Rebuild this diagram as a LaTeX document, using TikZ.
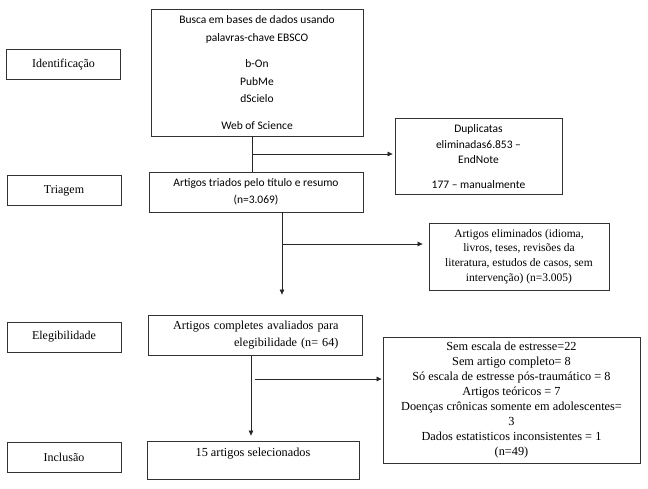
\documentclass[tikz,border=0pt]{standalone}
\usepackage{fontspec}
\setmainfont{Liberation Serif}
\newfontfamily\calibri{Carlito}
\usetikzlibrary{positioning,calc,arrows.meta}
\tikzset{
	box/.style={draw=black!80, line width=0.8pt, inner sep=0pt, align=center},
	stagebox/.style={box, minimum width=114pt, minimum height=30pt, font=\fontsize{12}{14}\selectfont},
	serif/.style={font=\fontsize{12.3}{15}\selectfont},
	cal/.style={font=\calibri\fontsize{11.5}{17.5}\selectfont},
	arr/.style={line width=0.7pt, black!85, -{Triangle[length=5pt,width=4.5pt]}},
	lin/.style={line width=0.7pt, black!85}
}
\begin{document}
\begin{tikzpicture}[x=1pt, y=-1pt]
			\useasboundingbox (0,0) rectangle (648,488);
			\node[stagebox] (ident) at (63.5,64.5) {Identificação};
			\node[stagebox] (triag) at (64,190.5) {Triagem};
			\node[stagebox] (eleg) at (64,337) {Elegibilidade};
			\node[stagebox] (incl) at (64,457) {Inclusão};
			\node[box, cal, minimum width=212pt, minimum height=127pt] (busca) at (257,72.5)
				{Busca em bases de dados usando\\ palavras-chave EBSCO\\[9pt] b-On\\ PubMe\\ dScielo\\[9pt] Web of Science};
			\node[box, cal, font=\calibri\fontsize{11.5}{15.5}\selectfont, minimum width=167pt, minimum height=76pt] (dup) at (478.5,156)
				{\\[-6pt]Duplicatas\\ eliminadas6.853 –\\ EndNote\\[9pt] 177 – manualmente};
			\node[box, cal, font=\calibri\fontsize{11.5}{17}\selectfont, minimum width=214pt, minimum height=40pt] (triados) at (256,192)
				{Artigos triados pelo título e resumo\\ (n=3.069)};
			\node[box, serif, font=\fontsize{11.5}{14.7}\selectfont, minimum width=180pt, minimum height=67pt] (elim) at (519,256.5)
				{Artigos eliminados (idioma,\\ livros, teses, revisões da\\ literatura, estudos de casos, sem\\ intervenção) (n=3.005)};
			\node[box, serif, font=\fontsize{12.2}{17}\selectfont, text width=167pt, align=right, minimum width=214pt, minimum height=40pt] (compl) at (255,335)
				{Artigos completes avaliados para\\ elegibilidade (n= 64)};
			\node[box, serif, minimum width=257pt, minimum height=126pt] (sem) at (511.5,400)
				{Sem escala de estresse=22\\ Sem artigo completo= 8\\ Só escala de estresse pós-traumático = 8\\ Artigos teóricos = 7\\ Doenças crônicas somente em adolescentes=\\ 3\\ Dados estatisticos inconsistentes = 1\\ (n=49)};
			\node[box, serif, minimum width=212pt, minimum height=38pt] (sel) at (253,460)
				{15 artigos selecionados\\ \mbox{}};
			\coordinate (b1) at (252,154);
			\coordinate (b2) at (282,244);
			\coordinate (b3) at (251,379);
			\draw[lin] (busca.south -| b1) -- (triados.north -| b1);
			\draw[arr, shorten >=2pt] (b1) -- (b1 -| dup.west);
			\draw[arr] (triados.south -| b2) -- ($(compl.north -| b2)+(0,-20)$);
			\draw[arr, shorten >=6pt] (b2) -- (b2 -| elim.west);
			\draw[arr, shorten >=5pt] (compl.south -| b3) -- (sel.north -| b3);
			\draw[arr, shorten >=1pt] ([xshift=4pt]b3) -- (b3 -| sem.west);
		\end{tikzpicture}
\end{document}
